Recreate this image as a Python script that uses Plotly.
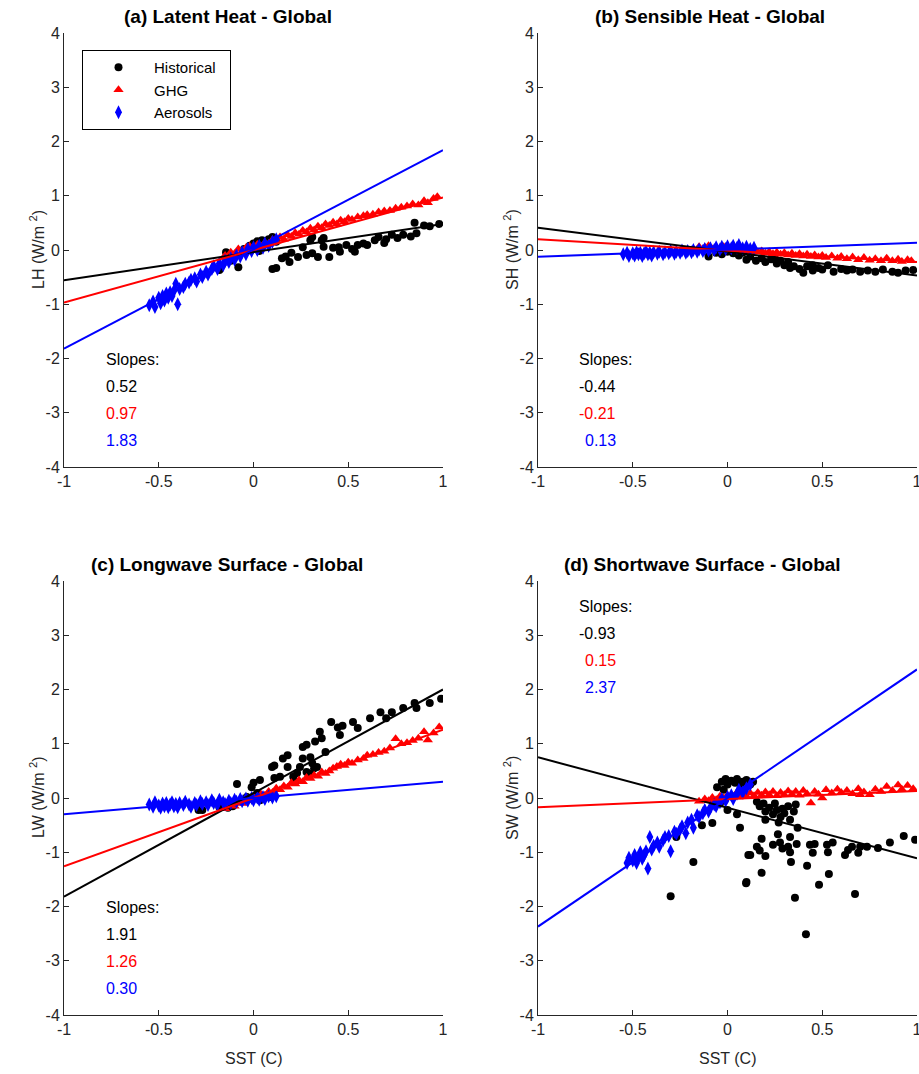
import plotly.graph_objects as go

W, H = 919, 1074
FONT = "Liberation Sans, Arial, sans-serif"
AX = "#262626"

series_names = ["Historical", "GHG", "Aerosols"]
series_colors = ["#000000", "#ff0000", "#0000ff"]
series_symbols = ["circle", "triangle-up", "diamond-tall"]
series_sizes = [8, 9, 10]

x_ticks = [-1, -0.5, 0, 0.5, 1]
x_ticktext = ["-1", "-0.5", "0", "0.5", "1"]
y_ticks = [-4, -3, -2, -1, 0, 1, 2, 3, 4]
y_ticktext = ["-4", "-3", "-2", "-1", "0", "1", "2", "3", "4"]

titles = ["(a) Latent Heat - Global", "(b) Sensible Heat - Global",
          "(c) Longwave Surface - Global", "(d) Shortwave Surface - Global"]
ylabels = ["LH (W/m <sup>2</sup>)", "SH (W/m <sup>2</sup>)",
           "LW (W/m <sup>2</sup>)", "SW (W/m <sup>2</sup>)"]
xlabel = "SST (C)"

# regression slopes and intercepts: [Historical, GHG, Aerosols]
slopes_a = [0.52, 0.97, 1.83]
intercepts_a = [-0.04, 0.00, 0.01]
slopes_b = [-0.44, -0.21, 0.13]
intercepts_b = [-0.03, -0.01, 0.005]
slopes_c = [1.91, 1.26, 0.30]
intercepts_c = [0.09, 0.00, 0.00]
slopes_d = [-0.93, 0.15, 2.37]
intercepts_d = [-0.18, -0.02, 0.00]

# ---------- (a) Latent heat ----------
a_hist = [(-0.18,-0.37),(-0.12,-0.20),(-0.145,-0.04),(-0.10,-0.12),(-0.08,-0.32),
          (-0.05,0.02),(-0.02,0.08),(0.00,0.12),(0.02,0.16),(0.03,-0.02),
          (0.045,0.18),(0.06,0.12),(0.08,0.20),(0.10,0.24),(0.12,0.15),
          (0.10,-0.35),(0.12,-0.33),(0.15,-0.15),(0.17,-0.12),(0.19,-0.22),
          (0.20,-0.05),(0.235,-0.13),(0.26,0.05),(0.28,-0.09),(0.30,0.18),
          (0.31,-0.06),(0.31,0.24),(0.34,-0.13),(0.36,0.18),(0.37,0.06),
          (0.37,0.22),(0.40,-0.13),(0.42,0.04),(0.45,0.05),(0.456,-0.03),
          (0.49,0.09),(0.52,0.02),(0.535,-0.03),(0.55,0.09),(0.58,0.12),
          (0.60,0.09),(0.64,0.18),(0.66,0.24),(0.69,0.13),(0.70,0.20),
          (0.73,0.28),(0.76,0.22),(0.79,0.28),(0.83,0.25),(0.85,0.50),
          (0.86,0.31),(0.90,0.45),(0.93,0.44),(0.98,0.48)]
a_ghg = [(-0.15,-0.10),(-0.12,-0.04),(-0.10,-0.07),(-0.08,0.02),(-0.06,-0.02),
         (-0.04,0.04),(-0.02,0.07),(0.00,0.04),(0.02,0.10),(0.04,0.07),
         (0.06,0.14),(0.08,0.12),(0.10,0.19),(0.12,0.16),(0.14,0.24),
         (0.16,0.20),(0.18,0.28),(0.20,0.25),(0.22,0.32),(0.24,0.29),
         (0.26,0.36),(0.28,0.33),(0.30,0.40),(0.32,0.37),(0.34,0.44),
         (0.36,0.41),(0.38,0.48),(0.40,0.45),(0.42,0.51),(0.44,0.48),
         (0.46,0.55),(0.48,0.52),(0.50,0.58),(0.52,0.56),(0.55,0.61),
         (0.58,0.63),(0.60,0.65),(0.63,0.66),(0.66,0.70),(0.69,0.72),
         (0.72,0.73),(0.75,0.77),(0.78,0.79),(0.81,0.81),(0.84,0.85),
         (0.87,0.83),(0.90,0.91),(0.92,0.87),(0.95,0.95),(0.97,0.98)]
a_aer = [(-0.55,-1.02),(-0.53,-0.95),(-0.52,-1.05),(-0.50,-0.88),(-0.49,-0.98),
         (-0.48,-0.85),(-0.47,-0.93),(-0.46,-0.80),(-0.45,-0.88),(-0.44,-0.78),
         (-0.43,-0.85),(-0.42,-0.75),(-0.41,-0.62),(-0.40,-1.00),(-0.39,-0.72),
         (-0.37,-0.68),(-0.36,-0.62),(-0.34,-0.60),(-0.33,-0.55),(-0.31,-0.52),
         (-0.30,-0.58),(-0.28,-0.45),(-0.27,-0.50),(-0.25,-0.40),(-0.24,-0.45),
         (-0.22,-0.35),(-0.21,-0.30),(-0.19,-0.35),(-0.18,-0.25),(-0.16,-0.28),
         (-0.15,-0.20),(-0.13,-0.22),(-0.12,-0.15),(-0.10,-0.18),(-0.09,-0.10),
         (-0.07,-0.12),(-0.06,-0.04),(-0.04,-0.08),(-0.03,0.02),(-0.01,-0.02),
         (0.00,0.05),(0.02,0.00),(0.03,0.08),(0.05,0.04),(0.06,0.12),
         (0.08,0.08),(0.10,0.15),(0.12,0.20)]

# ---------- (b) Sensible heat ----------
b_hist = [(-0.10,-0.12),(-0.06,-0.05),(-0.03,-0.08),(0.00,-0.03),(0.03,-0.06),
          (0.06,-0.10),(0.08,-0.05),(0.10,-0.18),(0.12,-0.12),(0.15,-0.20),
          (0.18,-0.15),(0.20,-0.22),(0.23,-0.17),(0.25,-0.15),(0.26,-0.25),
          (0.28,-0.20),(0.30,-0.28),(0.32,-0.22),(0.33,-0.33),(0.35,-0.30),
          (0.38,-0.35),(0.40,-0.42),(0.42,-0.30),(0.45,-0.38),(0.45,-0.28),
          (0.48,-0.33),(0.50,-0.36),(0.53,-0.28),(0.56,-0.40),(0.60,-0.35),
          (0.63,-0.38),(0.66,-0.36),(0.70,-0.40),(0.74,-0.38),(0.78,-0.40),
          (0.82,-0.36),(0.87,-0.40),(0.90,-0.42),(0.94,-0.38),(0.98,-0.37)]
b_ghg = [(-0.15,0.06),(-0.12,0.05),(-0.10,0.08),(-0.08,0.02),(-0.06,0.05),
         (-0.04,0.03),(-0.02,0.06),(0.00,0.02),(0.02,0.04),(0.04,0.00),
         (0.06,0.03),(0.08,-0.02),(0.10,0.01),(0.12,-0.03),(0.14,0.00),
         (0.16,-0.04),(0.18,-0.02),(0.20,-0.06),(0.22,-0.03),(0.24,-0.07),
         (0.26,-0.04),(0.28,-0.08),(0.30,-0.05),(0.32,-0.09),(0.34,-0.06),
         (0.36,-0.10),(0.38,-0.07),(0.40,-0.11),(0.42,-0.08),(0.44,-0.12),
         (0.46,-0.09),(0.48,-0.13),(0.50,-0.10),(0.52,-0.14),(0.55,-0.11),
         (0.58,-0.15),(0.60,-0.12),(0.63,-0.16),(0.66,-0.13),(0.69,-0.18),
         (0.72,-0.14),(0.75,-0.19),(0.78,-0.16),(0.81,-0.20),(0.84,-0.15),
         (0.87,-0.20),(0.90,-0.17),(0.92,-0.21),(0.95,-0.18),(0.97,-0.20)]
b_aer = [(-0.55,-0.08),(-0.53,-0.05),(-0.52,-0.11),(-0.50,-0.06),(-0.49,-0.10),
         (-0.48,-0.04),(-0.47,-0.08),(-0.46,-0.05),(-0.45,-0.11),(-0.44,-0.06),
         (-0.43,-0.03),(-0.42,-0.08),(-0.41,-0.05),(-0.40,-0.10),(-0.39,-0.04),
         (-0.37,-0.07),(-0.36,-0.03),(-0.34,-0.08),(-0.33,-0.04),(-0.31,-0.06),
         (-0.30,-0.02),(-0.28,-0.07),(-0.27,-0.03),(-0.25,-0.05),(-0.24,-0.01),
         (-0.22,-0.05),(-0.21,-0.02),(-0.19,-0.04),(-0.18,0.00),(-0.16,-0.03),
         (-0.15,0.01),(-0.13,-0.02),(-0.12,0.02),(-0.10,-0.01),(-0.09,0.03),
         (-0.07,0.00),(-0.06,0.05),(-0.04,0.01),(-0.03,0.06),(-0.01,0.02),
         (0.00,0.07),(0.02,0.03),(0.03,0.08),(0.05,0.04),(0.06,0.09),
         (0.08,0.03),(0.10,0.06),(0.12,0.02),(0.14,0.04)]

# ---------- (c) Longwave ----------
c_hist = [(-0.29,-0.22),(-0.27,-0.22),(-0.18,-0.17),(-0.135,-0.18),(-0.11,-0.15),
          (-0.087,0.26),(-0.035,0.02),(-0.01,0.20),(0.00,0.28),(0.02,0.09),
          (0.034,0.33),(0.034,-0.04),(0.087,0.02),(0.098,0.57),(0.11,0.60),
          (0.11,0.37),(0.14,0.39),(0.155,0.73),(0.18,0.79),(0.18,0.57),
          (0.21,0.39),(0.22,0.30),(0.23,0.46),(0.245,0.57),(0.26,0.94),
          (0.26,0.73),(0.28,0.98),(0.28,0.48),(0.30,0.75),(0.30,0.45),
          (0.31,0.64),(0.32,0.55),(0.325,1.04),(0.335,0.57),(0.35,1.22),
          (0.36,1.10),(0.38,0.85),(0.41,1.40),(0.445,1.30),(0.456,1.16),
          (0.47,1.33),(0.525,1.40),(0.55,1.29),(0.615,1.47),(0.67,1.58),
          (0.70,1.47),(0.73,1.58),(0.79,1.66),(0.85,1.75),(0.86,1.66),
          (0.93,1.75),(0.99,1.83)]
c_ghg = [(-0.15,-0.20),(-0.12,-0.12),(-0.10,-0.15),(-0.08,-0.08),(-0.06,-0.10),
         (-0.04,-0.02),(-0.02,-0.05),(0.00,0.02),(0.02,0.00),(0.04,0.07),
         (0.06,0.05),(0.08,0.12),(0.10,0.10),(0.12,0.18),(0.14,0.15),
         (0.16,0.22),(0.18,0.20),(0.20,0.28),(0.22,0.26),(0.24,0.33),
         (0.26,0.30),(0.28,0.38),(0.30,0.36),(0.32,0.42),(0.34,0.40),
         (0.36,0.48),(0.38,0.45),(0.40,0.50),(0.42,0.55),(0.44,0.58),
         (0.46,0.62),(0.48,0.60),(0.50,0.66),(0.52,0.64),(0.55,0.70),
         (0.58,0.73),(0.60,0.79),(0.63,0.80),(0.66,0.84),(0.69,0.86),
         (0.72,0.92),(0.75,1.09),(0.78,1.00),(0.81,1.02),(0.84,1.06),
         (0.87,1.10),(0.90,1.22),(0.92,1.07),(0.95,1.20),(0.98,1.31)]
c_aer = [(-0.55,-0.12),(-0.53,-0.16),(-0.52,-0.08),(-0.50,-0.14),(-0.49,-0.18),
         (-0.48,-0.10),(-0.47,-0.15),(-0.46,-0.09),(-0.45,-0.17),(-0.44,-0.12),
         (-0.43,-0.08),(-0.42,-0.15),(-0.41,-0.11),(-0.40,-0.17),(-0.39,-0.09),
         (-0.37,-0.13),(-0.36,-0.07),(-0.34,-0.12),(-0.33,-0.16),(-0.31,-0.09),
         (-0.30,-0.13),(-0.28,-0.06),(-0.27,-0.11),(-0.25,-0.08),(-0.24,-0.13),
         (-0.22,-0.04),(-0.21,-0.09),(-0.19,-0.12),(-0.18,-0.03),(-0.16,-0.08),
         (-0.15,-0.11),(-0.13,-0.05),(-0.12,-0.09),(-0.10,-0.03),(-0.09,-0.07),
         (-0.07,-0.02),(-0.06,-0.06),(-0.04,-0.01),(-0.03,-0.05),(-0.01,0.00),
         (0.00,-0.04),(0.02,0.01),(0.03,-0.03),(0.05,0.02),(0.06,-0.02),
         (0.08,0.03),(0.10,0.01),(0.12,0.03)]

# ---------- (d) Shortwave ----------
d_hist = [(-0.055,0.20),(-0.03,0.30),(-0.01,0.35),(0.00,0.25),(0.02,0.32),
          (0.04,0.28),(0.05,0.35),(0.07,0.22),(0.08,0.30),(0.10,0.33),
          (0.12,0.25),(0.135,0.30),(-0.02,0.15),(0.06,0.10),
          (0.155,-0.07),(0.17,-0.15),(0.19,-0.10),(0.20,-0.25),(0.22,-0.18),
          (0.24,-0.30),(0.25,-0.10),(0.26,-0.22),(0.28,-0.35),(0.29,-0.20),
          (0.30,-0.28),(0.32,-0.15),(0.33,-0.40),(0.35,-0.25),(0.36,-0.12),
          (0.37,-0.55),(0.20,-0.40),(0.27,-0.45),
          (-0.08,-0.46),(-0.135,-0.50),(0.066,-0.55),(-0.27,-0.72),(-0.18,-1.18),
          (-0.30,-1.81),(0.10,-1.55),(0.11,-1.05),(0.00,-0.22),(0.05,-0.30),
          (-0.04,-0.10),
          (0.18,-0.75),(0.266,-0.67),(0.33,-0.72),(0.155,-0.90),(0.17,-0.97),
          (0.24,-0.86),(0.277,-0.82),(0.29,-0.93),(0.32,-0.90),(0.365,-0.85),
          (0.33,-1.00),(0.335,-1.18),(0.12,-1.05),(0.20,-1.07),(0.435,-0.86),
          (0.46,-0.85),(0.45,-1.01),(0.525,-0.86),(0.53,-1.00),(0.555,-0.82),
          (0.62,-1.05),(0.636,-0.96),(0.657,-0.90),(0.69,-1.01),(0.70,-0.90),
          (0.736,-0.90),(0.794,-0.92),(0.857,-0.82),(0.93,-0.70),(0.99,-0.77),
          (0.098,-1.57),(0.18,-1.38),(0.356,-1.84),(0.42,-1.25),(0.483,-1.60),
          (0.535,-1.40),(0.673,-1.77),(0.414,-2.51)]
d_ghg = [(-0.15,-0.06),(-0.12,-0.02),(-0.10,-0.05),(-0.08,0.01),(-0.06,-0.03),
         (-0.04,0.03),(-0.02,0.00),(0.00,0.05),(0.02,0.01),(0.04,0.06),
         (0.06,0.02),(0.08,0.08),(0.10,0.03),(0.12,0.09),(0.14,0.04),
         (0.16,0.10),(0.18,0.05),(0.20,0.11),(0.22,0.06),(0.24,0.12),
         (0.26,0.04),(0.28,0.10),(0.30,0.06),(0.32,0.13),(0.34,0.07),
         (0.36,0.12),(0.38,0.05),(0.40,0.14),(0.42,0.08),(0.44,-0.09),
         (0.46,0.12),(0.48,0.07),(0.50,0.00),(0.52,0.15),(0.55,0.09),
         (0.58,0.16),(0.60,0.10),(0.63,0.14),(0.66,0.08),(0.69,0.17),
         (0.70,0.06),(0.72,0.11),(0.75,0.06),(0.78,0.16),(0.81,0.12),
         (0.84,0.21),(0.87,0.14),(0.90,0.24),(0.92,0.16),(0.95,0.23),
         (0.98,0.17)]
d_aer = [(-0.53,-1.20),(-0.52,-1.10),(-0.50,-1.15),(-0.49,-1.05),(-0.48,-1.20),
         (-0.47,-1.10),(-0.46,-1.00),(-0.45,-1.12),(-0.44,-1.05),(-0.43,-0.98),
         (-0.42,-1.30),(-0.41,-0.72),(-0.40,-0.95),(-0.39,-0.88),(-0.37,-0.82),
         (-0.36,-0.90),(-0.34,-0.78),(-0.33,-0.72),(-0.31,-0.70),(-0.30,-0.98),
         (-0.28,-0.62),(-0.27,-0.66),(-0.25,-0.58),(-0.24,-0.52),(-0.22,-0.65),
         (-0.21,-0.45),(-0.19,-0.40),(-0.18,-0.55),(-0.16,-0.32),(-0.15,-0.35),
         (-0.13,-0.28),(-0.12,-0.22),(-0.10,-0.25),(-0.09,-0.18),(-0.07,-0.12),
         (-0.06,-0.15),(-0.04,-0.08),(-0.03,-0.02),(-0.01,-0.05),(0.00,0.02),
         (0.02,0.05),(0.03,-0.02),(0.05,0.08),(0.06,0.15),(0.08,0.10),
         (0.10,0.18),(0.12,0.25)]

panels = [
    dict(data=[a_hist, a_ghg, a_aer], slopes=slopes_a, ints=intercepts_a,
         box=(64, 443, 33, 467), title_x=228, title_y=17,
         slope_x=104, slope_y=[359, 386, 413, 440], xlabel=False),
    dict(data=[b_hist, b_ghg, b_aer], slopes=slopes_b, ints=intercepts_b,
         box=(538, 917, 33, 467), title_x=710, title_y=17,
         slope_x=577, slope_y=[359, 386, 413, 440], xlabel=False),
    dict(data=[c_hist, c_ghg, c_aer], slopes=slopes_c, ints=intercepts_c,
         box=(64, 443, 581, 1015), title_x=227, title_y=564,
         slope_x=104, slope_y=[907, 934, 961, 988], xlabel=True),
    dict(data=[d_hist, d_ghg, d_aer], slopes=slopes_d, ints=intercepts_d,
         box=(538, 917, 581, 1015), title_x=702, title_y=564,
         slope_x=577, slope_y=[606, 633, 660, 687], xlabel=True),
]

fig = go.Figure()
annotations = []
layout_axes = {}

for i, p in enumerate(panels):
    n = i + 1
    xa = "x" if n == 1 else f"x{n}"
    ya = "y" if n == 1 else f"y{n}"
    x0, x1, y0, y1 = p["box"]
    # scatter points
    for k in range(3):
        pts = p["data"][k]
        fig.add_trace(go.Scatter(
            x=[q[0] for q in pts], y=[q[1] for q in pts], mode="markers",
            name=series_names[k] + "\u00a0\u00a0", showlegend=(n == 1),
            legendrank=k,
            marker=dict(symbol=series_symbols[k], size=series_sizes[k],
                        color=series_colors[k], line=dict(width=0)),
            xaxis=xa, yaxis=ya, cliponaxis=True))
    # regression lines
    for k in range(3):
        xs = [x_ticks[0], x_ticks[-1]]
        ys = [p["slopes"][k] * v + p["ints"][k] for v in xs]
        fig.add_trace(go.Scatter(
            x=xs, y=ys, mode="lines", showlegend=False,
            line=dict(color=series_colors[k], width=2),
            xaxis=xa, yaxis=ya))

    axis_common = dict(showgrid=False, zeroline=False, showline=True,
                       linecolor=AX, linewidth=1, ticks="inside", ticklen=5,
                       tickcolor=AX, tickwidth=1, mirror=False, automargin=False,
                       ticklabeloverflow="allow",
                       tickfont=dict(family=FONT, size=16, color=AX))
    layout_axes["xaxis" if n == 1 else f"xaxis{n}"] = dict(
        axis_common, domain=[x0 / W, x1 / W], range=[-1, 1],
        tickvals=x_ticks, ticktext=x_ticktext, anchor=ya)
    layout_axes["yaxis" if n == 1 else f"yaxis{n}"] = dict(
        axis_common, domain=[1 - y1 / H, 1 - y0 / H], range=[-4, 4],
        tickvals=y_ticks, ticktext=y_ticktext, anchor=xa)

    # title
    annotations.append(dict(text=f"<b>{titles[i]}</b>", x=p["title_x"] / W,
                            y=1 - p["title_y"] / H, xref="paper", yref="paper",
                            xanchor="center", yanchor="middle", showarrow=False,
                            font=dict(family=FONT, size=19, color="#000000")))
    # y label
    annotations.append(dict(text=ylabels[i], x=(x0 - 27) / W,
                            y=1 - ((y0 + y1) / 2) / H, xref="paper", yref="paper",
                            xanchor="center", yanchor="middle", textangle=-90,
                            showarrow=False,
                            font=dict(family=FONT, size=16, color=AX)))
    if p["xlabel"]:
        annotations.append(dict(text=xlabel, x=((x0 + x1) / 2) / W,
                                y=1 - 1058 / H, xref="paper", yref="paper",
                                xanchor="center", yanchor="middle",
                                showarrow=False,
                                font=dict(family=FONT, size=16, color=AX)))
    # slopes text
    annotations.append(dict(text="Slopes:", x=p["slope_x"] / W,
                            y=1 - p["slope_y"][0] / H, xref="paper", yref="paper",
                            xanchor="left", yanchor="middle", showarrow=False,
                            font=dict(family=FONT, size=16, color="#000000")))
    has_neg = any(s < 0 for s in p["slopes"])
    for k in range(3):
        s = p["slopes"][k]
        annotations.append(dict(text=f"{s:.2f}", x=p["slope_x"] / W,
                                y=1 - p["slope_y"][k + 1] / H,
                                xref="paper", yref="paper",
                                xanchor="left", yanchor="middle",
                                xshift=(6 if (has_neg and s >= 0) else 0),
                                showarrow=False,
                                font=dict(family=FONT, size=16,
                                          color=series_colors[k])))

fig.update_layout(
    width=W, height=H, autosize=False, margin=dict(l=0, r=0, t=0, b=0, pad=0),
    paper_bgcolor="white", plot_bgcolor="white",
    font=dict(family=FONT, size=16, color=AX),
    annotations=annotations,
    legend=dict(x=82 / W, y=1 - 50 / H, xanchor="left", yanchor="top",
                bgcolor="white", bordercolor="#000000", borderwidth=1,
                font=dict(family=FONT, size=15, color="#000000"),
                itemwidth=61, tracegroupgap=0, traceorder="normal"),
    **layout_axes)

fig.write_html("out.html", config={"responsive": False},
               post_script="document.body.style.margin='0px';document.body.style.padding='0px';")
